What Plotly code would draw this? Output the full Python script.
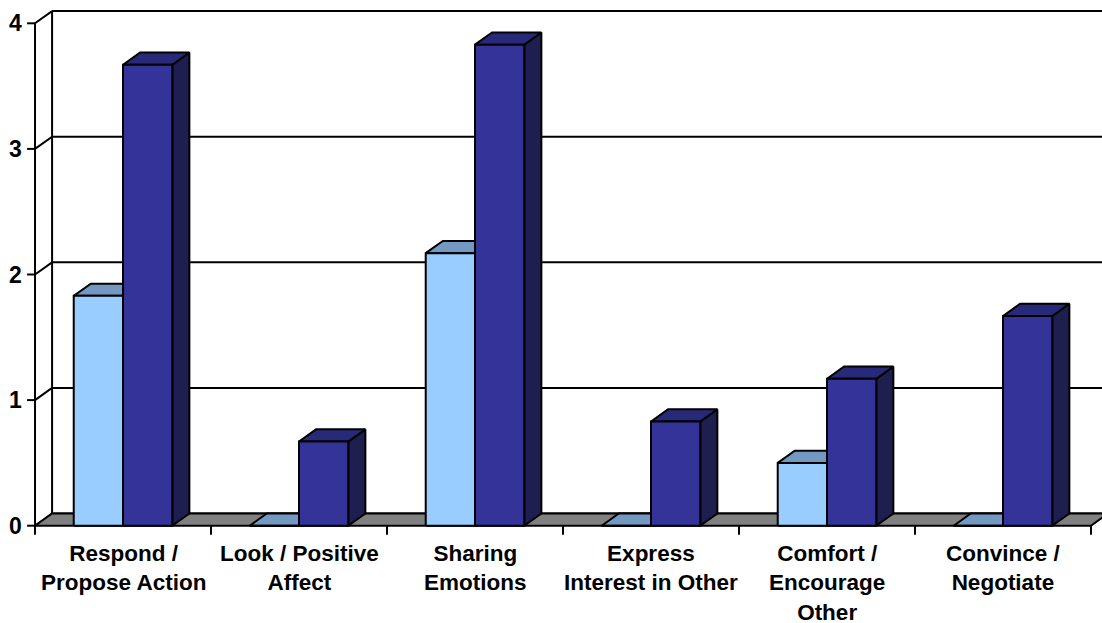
import plotly.graph_objects as go

# Category labels (line breaks as rendered under the floor)
categories = [
    "Respond /<br>Propose Action",
    "Look / Positive<br>Affect",
    "Sharing<br>Emotions",
    "Express<br>Interest in Other",
    "Comfort /<br>Encourage<br>Other",
    "Convince /<br>Negotiate",
]
series_a = [1.83, 0.0, 2.17, 0.0, 0.50, 0.0]
series_b = [3.67, 0.67, 3.83, 0.83, 1.17, 1.67]
y_ticks = [0, 1, 2, 3, 4]

# 3-D projection offset (axis units) and bar width (category units)
DX, DY = 0.097, 0.097
BAR_W = 0.28
TICK_X = 0.045
TICK_Y = 0.072

face_colors = [
    dict(front="#99CCFF", top="#7399C3", side="#5A7FA6"),
    dict(front="#333399", top="#29297A", side="#1E1E4F"),
]

fig = go.Figure()


def polygon(xs, ys, fill, width=2):
    fig.add_trace(go.Scatter(
        x=list(xs) + [xs[0]], y=list(ys) + [ys[0]],
        mode="lines", fill="toself", fillcolor=fill,
        line=dict(color="black", width=width),
        hoverinfo="skip", showlegend=False,
    ))


def segment(xs, ys, width=2):
    fig.add_trace(go.Scatter(
        x=xs, y=ys, mode="lines",
        line=dict(color="black", width=width),
        hoverinfo="skip", showlegend=False,
    ))


n = len(categories)
x_left = -0.5
x_right = n - 0.5
y_top = max(y_ticks)

# back wall gridlines and side-wall connectors
for k in y_ticks:
    segment([x_left + DX, x_right + DX + 1], [k + DY, k + DY])
    segment([x_left, x_left + DX], [k, k + DY])
    segment([x_left - TICK_X, x_left], [k, k])
segment([x_left + DX, x_left + DX], [DY, y_top + DY])
segment([x_left, x_left], [-TICK_Y, y_top])

# floor
polygon([x_left, x_right, x_right + DX, x_left + DX],
        [0, 0, DY, DY], "#808080")
for i in range(1, n + 1):
    segment([x_left + i, x_left + i], [0, -TICK_Y])

# bars: side, top, then front face
for i in range(n):
    for s, values in enumerate([series_a, series_b]):
        v = values[i]
        x0 = i - BAR_W if s == 0 else i
        x1 = x0 + BAR_W
        c = face_colors[s]
        polygon([x1, x1 + DX, x1 + DX, x1], [0, DY, v + DY, v], c["side"])
        polygon([x0, x1, x1 + DX, x0 + DX], [v, v, v + DY, v + DY], c["top"])
        polygon([x0, x1, x1, x0], [0, 0, v, v], c["front"])

label_font = dict(family="Liberation Sans, Arial, sans-serif", size=22.5, color="black", weight="bold")
tick_font = dict(family="Liberation Sans, Arial, sans-serif", size=23, color="black", weight="bold")

for k in y_ticks:
    fig.add_annotation(x=x_left - 0.06, y=k, text=str(k), showarrow=False,
                       xanchor="right", yanchor="middle", font=tick_font)

for i, label in enumerate(categories):
    fig.add_annotation(x=i, y=-0.105, text=label, showarrow=False,
                       xanchor="center", yanchor="top", align="center", font=label_font)

fig.update_layout(
    width=1102, height=623,
    margin=dict(l=0, r=0, t=0, b=0),
    paper_bgcolor="white", plot_bgcolor="white",
    showlegend=False, hovermode=False,
    xaxis=dict(visible=False, range=[-0.6989, 5.5625], fixedrange=True),
    yaxis=dict(visible=False, range=[-0.7747, 4.1855], fixedrange=True),
)

fig.write_html("out.html")
